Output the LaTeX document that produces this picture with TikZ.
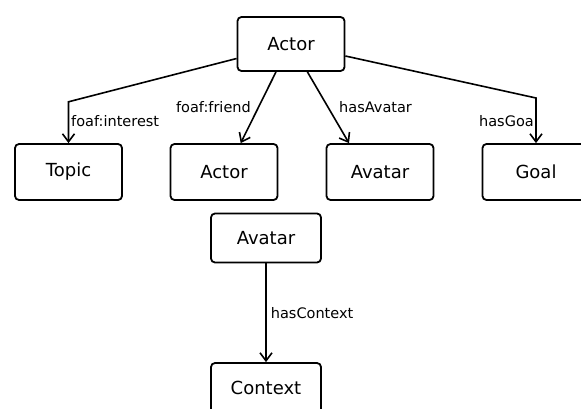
\documentclass[tikz,border=0pt]{standalone}
\usepackage{fontspec}
\setmainfont{DejaVu Sans}
\usetikzlibrary{arrows.meta}
\begin{document}
\begin{tikzpicture}[x=1pt,y=-1pt,
  box/.style={draw, line width=1.8pt, rounded corners=4pt, minimum width=107pt, minimum height=54pt, inner sep=0pt, font=\fontsize{18}{20}\selectfont},
  rel/.style={line width=1.6pt, -{Straight Barb[length=8pt,width=12pt]}},
  lbl/.style={font=\fontsize{14.5}{16}\selectfont, inner sep=0pt}]
\useasboundingbox (0,0) rectangle (581,409);
\clip (0,0) rectangle (581,409);
\node[box] (A) at (291,44) {Actor};
\node[box, minimum height=56pt] (T) at (68.5,172) {Topic};
\node[box, minimum height=56pt] (A2) at (224,172) {Actor};
\node[box, minimum height=56pt] (Av) at (380,172) {Avatar};
\node[box, minimum height=56pt] (G) at (536,172) {Goal};
\node[box, minimum width=110pt, minimum height=49pt] (Av2) at (266,238) {Avatar};
\node[box, minimum width=110pt, minimum height=50pt] (C) at (266,388) {Context};
\coordinate (tbend) at (68.5,101.8);
\coordinate (gbend) at (536,98);
\draw[rel] ([yshift=-14.5pt]A.west) -- (tbend) -- (T.north);
\draw[rel] ([xshift=-15pt]A.south) -- ([xshift=16.7pt]A2.north);
\draw[rel] ([xshift=16.4pt]A.south) -- ([xshift=-31pt]Av.north);
\draw[rel] ([yshift=-12pt]A.east) -- (gbend) -- (G.north);
\draw[rel] (Av2.south) -- (C.north);
\node[lbl, anchor=west] (l1) at (71,121.5) {foaf:interest};
\node[lbl, anchor=east] (l2) at (251,107.4) {foaf:friend};
\node[lbl, anchor=west] (l3) at (339,107.4) {hasAvatar};
\node[lbl, anchor=east] (l4) at (538,121.5) {hasGoal};
\node[lbl, anchor=west] (l5) at (270.7,312.7) {hasContext};
\end{tikzpicture}
\end{document}
